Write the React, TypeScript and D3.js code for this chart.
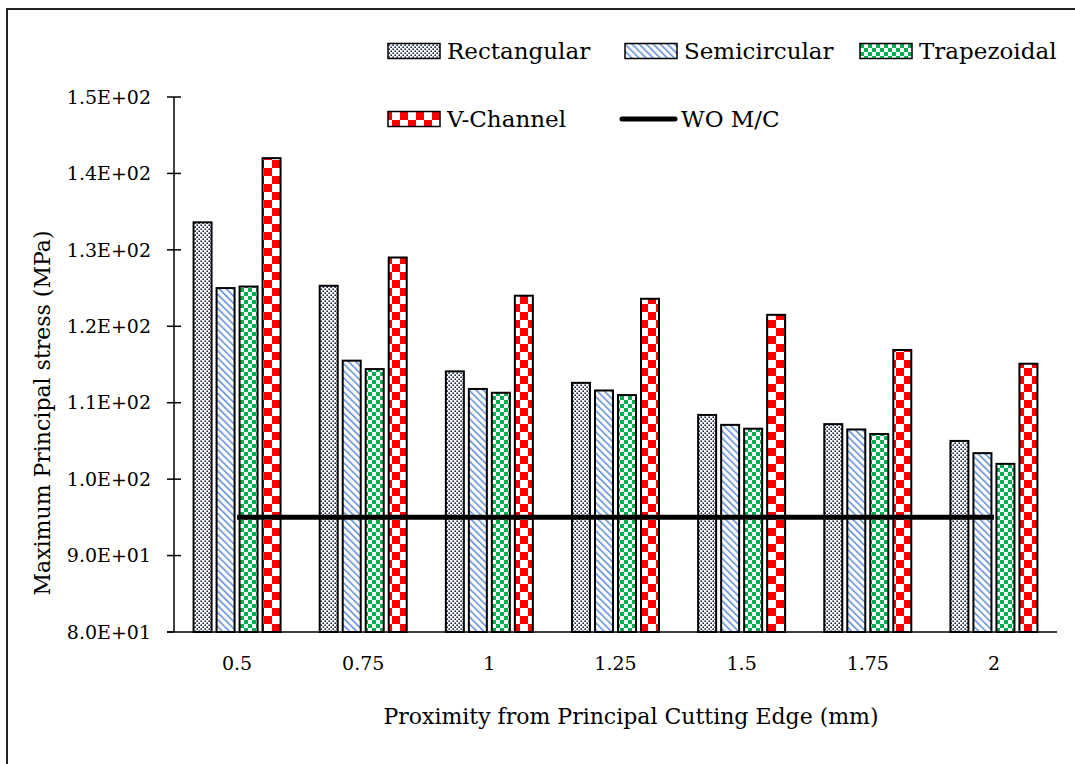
import React from "react";
import * as d3 from "d3";

const categories = ["0.5", "0.75", "1", "1.25", "1.5", "1.75", "2"];
const seriesNames = ["Rectangular", "Semicircular", "Trapezoidal", "V-Channel"];
const rectangular = [133.6, 125.3, 114.1, 112.6, 108.4, 107.2, 105.0];
const semicircular = [125.0, 115.5, 111.8, 111.6, 107.1, 106.5, 103.4];
const trapezoidal = [125.2, 114.4, 111.3, 111.0, 106.6, 105.9, 102.0];
const vChannel = [142.0, 129.0, 124.0, 123.6, 121.5, 116.9, 115.1];
const woMC = [95, 95, 95, 95, 95, 95, 95];
const yTicks = [80, 90, 100, 110, 120, 130, 140, 150];
const yTickLabels = ["8.0E+01", "9.0E+01", "1.0E+02", "1.1E+02", "1.2E+02", "1.3E+02", "1.4E+02", "1.5E+02"];

const seriesValues = [rectangular, semicircular, trapezoidal, vChannel];
const fills = ["url(#pRect)", "url(#pSemi)", "url(#pTrap)", "url(#pV)"];
const FONT = "'DejaVu Serif', 'Liberation Serif', serif";

export default function App() {
  const W = 1075, H = 764;
  const left = 174, right = 1057, top = 97, bottom = 632;
  const x = d3.scaleBand<string>().domain(categories).range([left, right]).padding(0);
  const inner = d3.scaleBand<string>().domain(seriesNames).range([-43.5, 43.5]).paddingInner(5 / 23).paddingOuter(0);
  const y = d3.scaleLinear().domain([80, 150]).range([bottom, top]);
  const cx = (c: string) => (x(c) as number) + x.bandwidth() / 2;

  const line = d3.line<number>().x((_, i) => cx(categories[i])).y((d) => y(d));

  const legendItems = [
    { label: "Rectangular", fill: fills[0], sx: 388, cy: 51 },
    { label: "Semicircular", fill: fills[1], sx: 625, cy: 51 },
    { label: "Trapezoidal", fill: fills[2], sx: 860, cy: 51 },
    { label: "V-Channel", fill: fills[3], sx: 388, cy: 119 },
  ];

  return (
    <svg width={W} height={H} style={{ position: "absolute", left: 0, top: 0, background: "#fff" }} fontFamily={FONT}>
      <defs>
        <pattern id="pRect" patternUnits="userSpaceOnUse" width="4" height="4">
          <rect width="4" height="4" fill="#fff" />
          <rect x="0.4" y="0.4" width="1.6" height="1.6" fill="#1a2744" />
          <rect x="2.4" y="2.4" width="1.6" height="1.6" fill="#1a2744" />
        </pattern>
        <pattern id="pSemi" patternUnits="userSpaceOnUse" width="5" height="5" patternTransform="rotate(-45)">
          <rect width="5" height="5" fill="#fff" />
          <rect x="0" y="0" width="1.5" height="5" fill="#5a8ad2" />
        </pattern>
        <pattern id="pTrap" patternUnits="userSpaceOnUse" width="8" height="8">
          <rect width="8" height="8" fill="#fff" />
          <rect x="0" y="0" width="4" height="4" fill="#00b050" />
          <rect x="4" y="4" width="4" height="4" fill="#00b050" />
        </pattern>
        <pattern id="pV" patternUnits="userSpaceOnUse" width="16" height="16">
          <rect width="16" height="16" fill="#fff" />
          <rect x="0" y="0" width="8" height="8" fill="#ff0000" />
          <rect x="8" y="8" width="8" height="8" fill="#ff0000" />
        </pattern>
      </defs>

      {/* outer border */}
      <rect x={7} y={9} width={W + 20} height={H + 20} fill="none" stroke="#222" strokeWidth={2} />

      {/* bars */}
      {seriesValues.map((vals, si) =>
        vals.map((v, ci) => {
          const bx = cx(categories[ci]) + (inner(seriesNames[si]) as number);
          return (
            <rect
              key={`${si}-${ci}`}
              x={bx}
              y={y(v)}
              width={inner.bandwidth()}
              height={y(80) - y(v)}
              fill={fills[si]}
              stroke="#000"
              strokeWidth={2}
            />
          );
        })
      )}

      {/* WO M/C line */}
      <path d={line(woMC) as string} fill="none" stroke="#000" strokeWidth={5} />

      {/* y axis */}
      <line x1={left} x2={left} y1={top} y2={bottom} stroke="#000" strokeWidth={1.5} />
      {yTicks.map((t, i) => (
        <g key={t}>
          <line x1={left - 7} x2={i === 0 ? left : left + 7} y1={y(t)} y2={y(t)} stroke="#000" strokeWidth={1.5} />
          <text x={151} y={y(t)} dy="0.35em" textAnchor="end" fontSize={19} fill="#000">
            {yTickLabels[i]}
          </text>
        </g>
      ))}
      {/* x axis */}
      <line x1={left - 7} x2={right} y1={bottom} y2={bottom} stroke="#000" strokeWidth={1.5} />
      {categories.map((c) => (
        <text key={c} x={cx(c)} y={663} dy="0.35em" textAnchor="middle" fontSize={19} fill="#000">
          {c}
        </text>
      ))}

      {/* axis titles */}
      <text x={631} y={716} dy="0.35em" textAnchor="middle" fontSize={22} fill="#000">
        Proximity from Principal Cutting Edge (mm)
      </text>
      <text transform={`translate(42, 413) rotate(-90)`} dy="0.35em" textAnchor="middle" fontSize={22} fill="#000">
        Maximum Principal stress (MPa)
      </text>

      {/* legend */}
      {legendItems.map((it) => (
        <g key={it.label}>
          <rect x={it.sx} y={it.cy - 7.5} width={52} height={15} fill={it.fill} stroke="#000" strokeWidth={1.5} />
          <text x={it.sx + 59} y={it.cy} dy="0.35em" fontSize={23} fill="#000">
            {it.label}
          </text>
        </g>
      ))}
      <line x1={622} x2={675} y1={119} y2={119} stroke="#000" strokeWidth={5} strokeLinecap="round" />
      <text x={681} y={119} dy="0.35em" fontSize={23} fill="#000">
        WO M/C
      </text>
    </svg>
  );
}
